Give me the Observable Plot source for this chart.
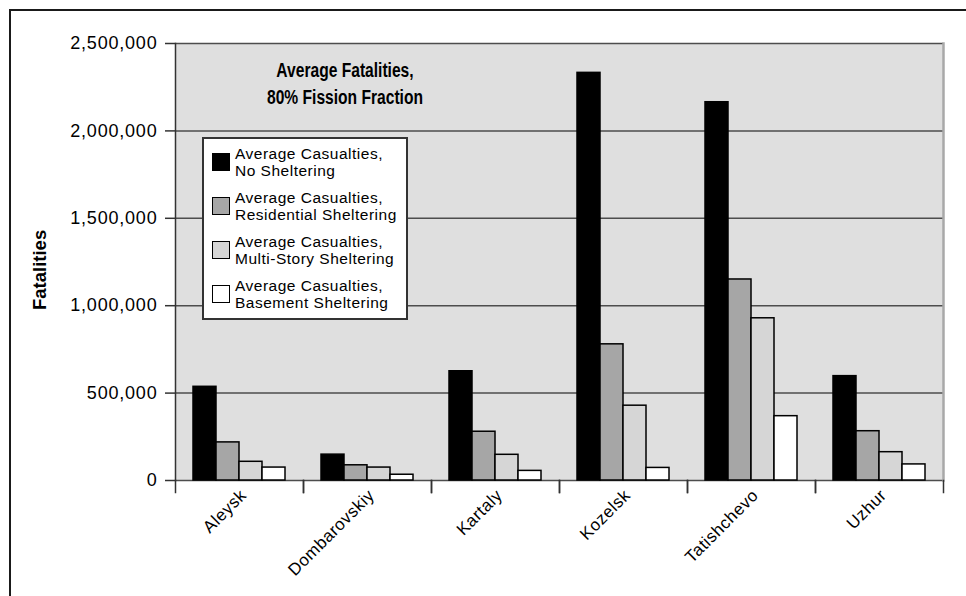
<!DOCTYPE html>
<html>
<head>
<meta charset="utf-8">
<script src="https://cdn.jsdelivr.net/npm/d3@7"></script>
<script src="https://cdn.jsdelivr.net/npm/@observablehq/plot@0.6"></script>
<style>
  html, body { margin: 0; padding: 0; background: #fff; overflow: hidden; }
  #wrap { position: relative; width: 966px; height: 596px; overflow: hidden; font-family: "Liberation Sans", Arial, sans-serif; }
  #outer { position: absolute; left: 9px; top: 9px; width: 1200px; height: 1200px; border: 2px solid #1a1a1a; box-sizing: border-box; pointer-events: none; }
  #chart { position: absolute; left: 0; top: 0; }
  #title { position: absolute; left: 225px; top: 57px; width: 240px; text-align: center; font-family: "Liberation Sans", Arial, sans-serif; font-weight: bold; font-size: 19.5px; line-height: 27px; color: #000; transform: scaleX(0.8); transform-origin: 120px 0; white-space: nowrap; }
  #legend { position: absolute; left: 202px; top: 137px; width: 206px; height: 183px; box-sizing: border-box; border: 2px solid #333; background: #fff; }
  .sw { position: absolute; left: 8px; width: 18px; height: 18px; box-sizing: border-box; border: 1.6px solid #000; }
  .lt { position: absolute; left: 31px; width: 175px; font-size: 15.5px; letter-spacing: 0.5px; line-height: 17px; color: #000; white-space: nowrap; }
  g[aria-label="y-axis tick label"] text { letter-spacing: 0.8px; }
  g[aria-label="fx-axis tick label"] text { letter-spacing: 0.5px; }
</style>
</head>
<body>
<div id="wrap">
  <div id="chart"></div>
  <div id="title"></div>
  <div id="legend"></div>
  <div id="outer"></div>
</div>
<script>
const titleLines = ["Average Fatalities,", "80% Fission Fraction"];
const yLabel = "Fatalities";
const cities = ["Aleysk", "Dombarovskiy", "Kartaly", "Kozelsk", "Tatishchevo", "Uzhur"];
const series = [
  "Average Casualties, No Sheltering",
  "Average Casualties, Residential Sheltering",
  "Average Casualties, Multi-Story Sheltering",
  "Average Casualties, Basement Sheltering"
];
const legendLines = [
  ["Average Casualties,", "No Sheltering"],
  ["Average Casualties,", "Residential Sheltering"],
  ["Average Casualties,", "Multi-Story Sheltering"],
  ["Average Casualties,", "Basement Sheltering"]
];
const noSheltering          = [536000, 148000, 625000, 2332000, 2164000, 597000];
const residentialSheltering = [218000,  87000, 279000,  779000, 1150000, 282000];
const multiStorySheltering  = [107000,  74000, 147000,  428000,  928000, 162000];
const basementSheltering    = [ 74000,  33000,  55000,   72000,  368000,  92000];
const yTicks = [0, 500000, 1000000, 1500000, 2000000, 2500000];
const colors = ["#000000", "#a6a6a6", "#d6d6d6", "#ffffff"];

const seriesValues = [noSheltering, residentialSheltering, multiStorySheltering, basementSheltering];
const data = cities.flatMap((city, i) => series.map((s, j) => ({city, series: s, value: seriesValues[j][i]})));

const chart = Plot.plot({
  width: 966,
  height: 596,
  marginLeft: 173,
  marginRight: 21,
  marginTop: 43,
  marginBottom: 116,
  style: {fontFamily: "'Liberation Sans', Arial, sans-serif", fontSize: "17px", color: "#000", background: "transparent", overflow: "visible"},
  fx: {domain: cities, padding: 0, label: null},
  x: {domain: series, padding: 0, insetLeft: 17, insetRight: 17, axis: null},
  y: {domain: [0, 2500000], label: null},
  color: {domain: series, range: colors},
  marks: [
    Plot.frame({fill: "#dfdfdf", stroke: "#dfdfdf", strokeWidth: 1}),
    Plot.gridY(yTicks, {stroke: "#4d4d4d", strokeOpacity: 1, strokeWidth: 1.5}),
    Plot.frame({anchor: "right", fx: "Uzhur", stroke: "#a8a8a8", strokeWidth: 2.5}),
    Plot.barY(data, {fx: "city", x: "series", y: "value", fill: "series", stroke: "#000", strokeWidth: 1.5}),
    Plot.frame({anchor: "left", fx: "Aleysk", stroke: "#333", strokeWidth: 1.5}),
    Plot.frame({anchor: "left", stroke: "#333", strokeWidth: 1.5, insetTop: 437, insetBottom: -12}),
    Plot.frame({anchor: "right", stroke: "#333", strokeWidth: 1.5, insetTop: 437, insetBottom: -12}),
    Plot.axisY(yTicks, {
      tickSize: 10, tickPadding: 8, stroke: "#333", strokeWidth: 1.5,
      tickFormat: d3.format(","), fontSize: 18, label: null
    }),
    Plot.text([yLabel], {
      facet: "super", frameAnchor: "left", rotate: -90, dx: -135, dy: 48,
      fontWeight: "bold", fontSize: 18.5, fill: "#000"
    }),
    Plot.axisFx({anchor: "bottom", tickSize: 0, tickPadding: 12, tickRotate: -45, fontSize: 17, dx: 4, label: null})
  ]
});
document.getElementById("chart").appendChild(chart);

document.getElementById("title").innerHTML = titleLines.join("<br>");

const legend = document.getElementById("legend");
const rowCenters = [24.5, 68.8, 113.1, 157.4];
legendLines.forEach((lines, i) => {
  const sw = document.createElement("div");
  sw.className = "sw";
  sw.style.top = (rowCenters[i] - 9 - 2) + "px";
  sw.style.background = colors[i];
  legend.appendChild(sw);
  const t = document.createElement("div");
  t.className = "lt";
  t.style.top = (rowCenters[i] - 17 - 2) + "px";
  t.innerHTML = lines.join("<br>");
  legend.appendChild(t);
});
</script>
</body>
</html>
